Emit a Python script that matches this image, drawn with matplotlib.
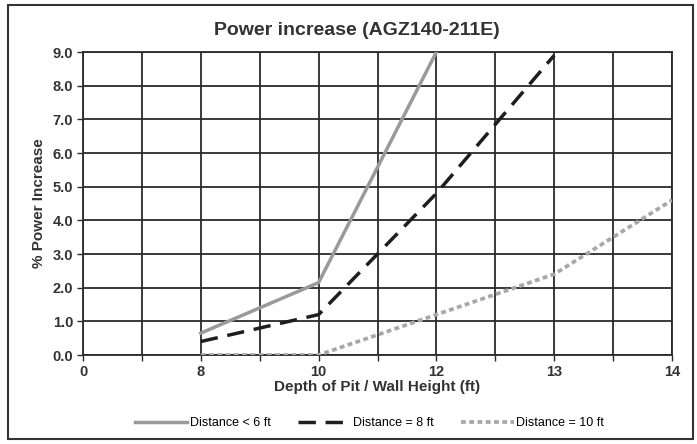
import numpy as np
import matplotlib
matplotlib.use('Agg')
import matplotlib.pyplot as plt
from matplotlib.patches import Rectangle

plt.rcParams['font.family'] = ['Liberation Sans', 'DejaVu Sans']

# categorias do eixo x (rótulos) e séries
categorias = ['0', '8', '10', '12', '13', '14']

x_6ft = ['8', '10', '12']
y_6ft = [0.65, 2.15, 9.0]

x_8ft = ['8', '10', '12', '13']
y_8ft = [0.4, 1.2, 4.8, 8.9]

x_10ft = ['8', '10', '12', '13', '14']
y_10ft = [0.0, 0.0, 1.2, 2.4, 4.6]

def pos(labels):
    return [categorias.index(l) for l in labels]

fig = plt.figure(figsize=(6.97, 4.44), dpi=100)
ax = fig.add_axes([83/697, 1 - 355/444, (672 - 83)/697, (355 - 52)/444])

ax.plot(pos(x_6ft), y_6ft, color='#9a9a9a', lw=2.5, label='Distance < 6 ft', zorder=3)
ax.plot(pos(x_8ft), y_8ft, color='#1e1e1e', lw=2.5, dashes=(5, 2.8), label='Distance = 8 ft', zorder=3)
ax.plot(pos(x_10ft), y_10ft, color='#a8a8a8', lw=2.7, dashes=(1.3, 0.9), label='Distance = 10 ft', zorder=3)

ax.set_xlim(0, len(categorias) - 1)
ax.set_ylim(0, 9)
ax.set_xticks(np.arange(len(categorias)))
ax.set_xticklabels(categorias)
ax.set_xticks(np.arange(0.5, len(categorias) - 1, 1), minor=True)
ax.set_yticks(np.arange(0, 9.1, 1))
ax.set_yticklabels([f'{v:.1f}' for v in np.arange(0, 9.1, 1)])

ax.grid(True, which='both', color='#2a2a2a', lw=1.3)
ax.tick_params(axis='both', which='both', labelsize=10.5, length=4, width=1, color='#2a2a2a', pad=3)
for lbl in ax.get_xticklabels() + ax.get_yticklabels():
    lbl.set_fontweight('bold')
    lbl.set_color('#333333')
for s in ax.spines.values():
    s.set_color('#2a2a2a')
    s.set_linewidth(1.3)

ax.set_xlabel('Depth of Pit / Wall Height (ft)', fontsize=11, fontweight='bold', color='#333333', labelpad=1)
ax.set_ylabel('% Power Increase', fontsize=11, fontweight='bold', color='#333333', labelpad=5)
fig.text(0.512, 0.932, 'Power increase (AGZ140-211E)', fontsize=14, fontweight='bold',
         color='#333333', ha='center', va='center')

fig.legend(loc='center', bbox_to_anchor=(0.53, 1 - 423/444), ncol=3, frameon=False,
           fontsize=9, handlelength=4.2, columnspacing=2.2, handletextpad=0.2)

fig.patches.append(Rectangle((8/697, 5/444), (693 - 8)/697, (439 - 5)/444,
                             transform=fig.transFigure, fill=False, ec='#333333', lw=1.5))

fig.savefig('out.png', dpi=100)
